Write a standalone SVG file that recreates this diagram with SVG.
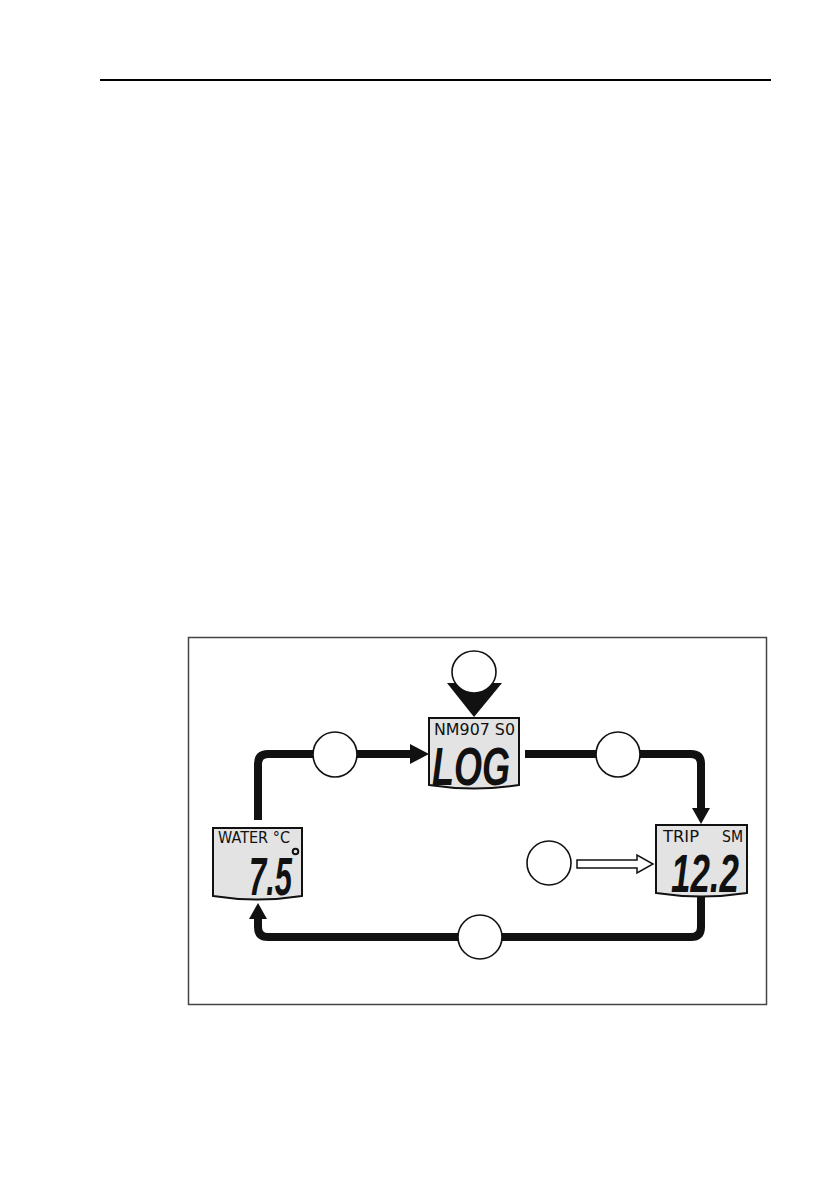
<svg xmlns="http://www.w3.org/2000/svg" width="838" height="1192" viewBox="0 0 838 1192">
<style>
.lcd{fill:#e3e3e3;stroke:#111;stroke-width:2}
.small{font-family:"DejaVu Sans","Liberation Sans",sans-serif;font-size:16.5px;fill:#111}
.big{font-family:"Liberation Sans",Arial,sans-serif;font-style:italic;font-weight:bold;font-size:53px;fill:#111}
.btn{fill:#fff;stroke:#111;stroke-width:1.6}
.flow{fill:none;stroke:#111;stroke-width:8;stroke-linejoin:round}
.head{fill:#111}
</style>
<rect width="838" height="1192" fill="#fff"/>
<line x1="100" y1="80" x2="771" y2="80" stroke="#000" stroke-width="2"/>
<rect x="188.5" y="637.5" width="578" height="367" fill="none" stroke="#444" stroke-width="1.5"/>

<g id="connectors">
  <path class="flow" d="M258,820 V764 Q258,754 268,754 H412"/>
  <polygon class="head" points="410,744 429,754 410,764"/>
  <path class="flow" d="M525,754 H691 Q701,754 701,764 V810"/>
  <polygon class="head" points="692,808 710,808 701,824"/>
  <path class="flow" d="M701,897 V927 Q701,937 691,937 H268 Q258,937 258,927 V918"/>
  <polygon class="head" points="249,919 267,919 258,903"/>
  <polygon class="head" points="447,683 502,683 474,717"/>
  <polygon fill="#fff" stroke="#111" stroke-width="1.5" points="577,860 637,860 637,855 653,864 637,873 637,868 577,868"/>
</g>

<g id="log">
  <path class="lcd" d="M429,718 H519 V785 Q474,792 429,785 Z"/>
  <text class="small" x="434" y="735" textLength="81" lengthAdjust="spacingAndGlyphs">NM907 S0</text>
  <text class="big" x="432" y="785" textLength="78" lengthAdjust="spacingAndGlyphs">LOG</text>
</g>

<g id="trip">
  <path class="lcd" d="M656,825 H747 V893 Q701.5,900 656,893 Z"/>
  <text class="small" x="663" y="842" textLength="36" lengthAdjust="spacingAndGlyphs">TRIP</text>
  <text class="small" x="722" y="842" textLength="21" lengthAdjust="spacingAndGlyphs">SM</text>
  <text class="big" x="671" y="892" textLength="68" lengthAdjust="spacingAndGlyphs">12.2</text>
</g>

<g id="water">
  <path class="lcd" d="M213,828 H302 V896 Q257.5,903 213,896 Z"/>
  <text class="small" x="218" y="843" textLength="72" lengthAdjust="spacingAndGlyphs">WATER °C</text>
  <text class="big" x="249" y="895" font-size="48" textLength="43" lengthAdjust="spacingAndGlyphs">7.5</text>
  <circle cx="295.5" cy="851.5" r="2.8" fill="none" stroke="#111" stroke-width="2"/>
</g>

<g id="btn-top"><ellipse class="btn" cx="474" cy="672" rx="22" ry="21"/></g>
<g id="btn-left"><ellipse class="btn" cx="335" cy="754.5" rx="22" ry="22.5"/></g>
<g id="btn-right"><ellipse class="btn" cx="618" cy="754.5" rx="22" ry="22.5"/></g>
<g id="btn-mid"><ellipse class="btn" cx="549" cy="863" rx="22" ry="22"/></g>
<g id="btn-bottom"><ellipse class="btn" cx="480" cy="937" rx="22" ry="22"/></g>
</svg>
